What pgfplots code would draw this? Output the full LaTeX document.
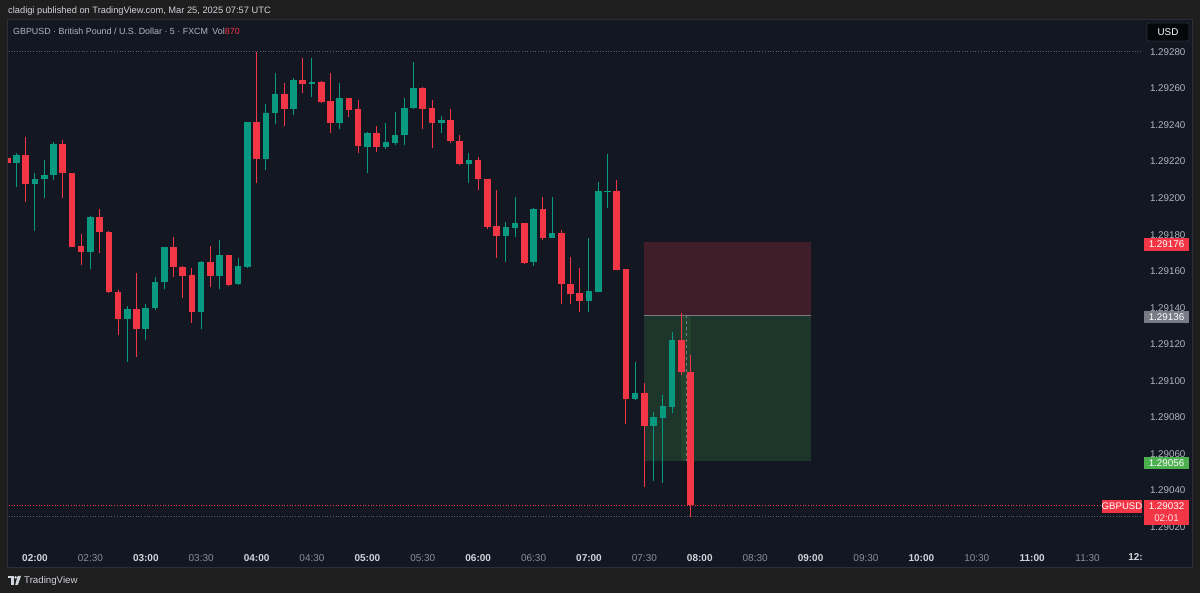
\documentclass[border=0pt]{standalone}
\usepackage{pgfplots}
\pgfplotsset{compat=1.18}
\usepackage{pgfplotstable}
\usepackage{fontspec}
\setmainfont{Liberation Sans}

\definecolor{outer}{HTML}{1E1E1E}
\definecolor{bg}{HTML}{131722}
\definecolor{frame}{HTML}{2A2E39}
\definecolor{up}{HTML}{089981}
\definecolor{dn}{HTML}{F23645}
\definecolor{txt}{HTML}{B2B5BE}
\definecolor{txtb}{HTML}{D1D4DC}
\definecolor{half}{HTML}{8A8E99}
\definecolor{tpgreen}{HTML}{4CAF50}
\definecolor{entry}{HTML}{787B86}

% GBPUSD 5 min candles; t = minutes after 00:00 UTC,
% o h l c = price in 1e-5 above 1.29000 (221.8 -> 1.292218)
\pgfplotstableread{
t o h l c
105 221.8 222.5 219.0 219.4
110 219.4 224.9 205.9 223.6
115 223.6 233.3 198.0 207.6
120 207.6 213.9 182.2 210.5
125 210.5 220.9 199.9 212.5
130 212.5 230.7 209.9 229.6
135 229.6 231.8 199.9 213.6
140 213.6 213.8 173.0 173.4
145 173.6 180.2 163.4 170.7
150 170.7 190.0 161.0 189.8
155 189.8 193.9 169.8 181.6
160 181.6 182.0 148.0 148.5
165 148.5 149.5 125.1 133.8
170 133.8 141.0 110.5 139.2
175 139.2 159.2 112.9 128.5
180 128.5 141.9 122.4 140.0
185 140.0 157.0 139.0 153.9
190 153.9 173.3 150.1 173.1
195 173.1 178.9 157.0 162.5
200 162.5 163.0 145.2 157.4
205 157.9 161.6 131.8 137.8
210 137.8 165.5 128.2 165.2
215 165.2 173.8 151.5 157.5
220 157.5 177.1 150.1 168.9
225 168.9 169.0 152.0 152.5
230 152.8 167.1 152.5 163.0
235 162.5 241.6 162.0 241.5
240 241.5 280.2 208.1 221.3
245 221.3 251.5 215.4 246.8
250 246.4 268.3 240.6 256.8
255 256.8 262.9 239.5 248.8
260 248.8 265.6 245.5 264.7
265 264.7 276.9 257.4 262.3
270 262.3 276.5 255.5 263.7
275 263.7 264.0 251.9 252.8
280 253.3 268.3 235.8 241.3
285 241.3 262.9 237.7 254.6
290 254.6 255.0 244.6 248.2
295 248.6 253.7 224.5 228.5
300 228.2 236.0 213.6 235.5
305 235.5 239.5 225.4 228.2
310 228.2 241.3 226.9 230.6
315 230.4 247.3 229.1 234.6
320 234.6 254.6 229.1 249.2
325 249.2 274.7 249.0 260.5
330 260.5 260.7 237.7 248.8
335 249.2 253.7 227.3 241.3
340 241.3 245.0 235.5 242.8
345 242.8 248.6 230.0 231.3
350 231.3 234.6 218.0 218.5
355 218.5 224.5 208.4 220.9
360 220.9 222.7 204.5 210.3
365 210.5 210.7 183.0 184.4
370 184.8 204.5 167.1 179.4
375 179.4 187.1 165.2 184.0
380 183.5 200.5 178.9 186.2
385 186.2 186.5 164.0 164.7
390 165.2 194.5 162.9 194.0
395 194.0 200.5 177.1 178.0
400 178.3 200.5 178.0 180.7
405 180.7 182.8 142.3 152.8
410 153.0 167.6 142.1 147.5
415 147.9 161.6 137.8 143.7
420 143.7 178.0 137.8 149.2
425 148.8 209.0 148.5 203.9
430 203.3 224.2 194.8 203.9
435 203.9 209.9 160.5 160.7
440 161.0 161.2 76.4 89.9
445 89.9 110.5 89.5 93.2
450 93.2 99.0 42.1 75.3
455 75.3 83.1 45.3 80.4
460 79.8 92.2 43.9 86.2
465 85.9 126.9 82.6 122.4
470 122.4 137.3 103.2 105.0
475 105.0 114.1 25.6 32.0
}\candles

\pgfplotsset{
  candle/.style n args={2}{draw=none, mark=none,
    error bars/y dir=plus, error bars/y explicit, error bars/error mark=none,
    error bars/error bar style={draw=#1, line width=#2}},
}

\begin{document}
\begin{tikzpicture}
% page background and chart panel (image pixel coordinates)
\begin{scope}[x=1pt, y=-1pt, shift={(0pt,593pt)}]
  \fill[outer] (0,0) rectangle (1200,593);
  \filldraw[fill=bg, draw=frame, line width=0.8pt] (7,19) rectangle (1192,567);
\end{scope}

\begin{axis}[
  at={(8pt,53pt)}, anchor=south west,
  scale only axis, width=1135pt, height=521pt,
  xmin=105.38, xmax=720, ymin=12.88, ymax=298.05,
  axis line style={draw=none},
  major tick length=0pt,
  xtick={120,150,...,690},
  xticklabels={
    {\color{txtb}\bfseries 02:00},02:30,{\color{txtb}\bfseries 03:00},03:30,
    {\color{txtb}\bfseries 04:00},04:30,{\color{txtb}\bfseries 05:00},05:30,
    {\color{txtb}\bfseries 06:00},06:30,{\color{txtb}\bfseries 07:00},07:30,
    {\color{txtb}\bfseries 08:00},08:30,{\color{txtb}\bfseries 09:00},09:30,
    {\color{txtb}\bfseries 10:00},10:30,{\color{txtb}\bfseries 11:00},11:30},
  xticklabel style={font=\fontsize{10}{12}\selectfont, text=half, yshift=-11pt},
  ytick={20,40,...,280},
  yticklabels={1.29020,1.29040,1.29060,1.29080,1.29100,1.29120,1.29140,
    1.29160,1.29180,1.29200,1.29220,1.29240,1.29260,1.29280},
  yticklabel pos=right,
  yticklabel style={font=\fontsize{9.8}{11}\selectfont, text=txt, anchor=east, xshift=46pt},
]
% short position tool: stop zone, target zone, entry line
\addplot[draw=none, fill=dn, fill opacity=0.2] coordinates {(450,136) (540,136) (540,176) (450,176)} -- cycle;
\addplot[draw=none, fill=tpgreen, fill opacity=0.2] coordinates {(450,56) (540,56) (540,136) (450,136)} -- cycle;
\addplot[draw=none, fill=tpgreen, fill opacity=0.12] coordinates {(470,56) (475,56) (475,136) (470,136)} -- cycle;
\addplot[entry, line width=0.8pt] coordinates {(450,136) (540,136)};
\addplot[entry, dashed, line width=0.6pt] coordinates {(472.5,136) (472.5,56)};
% high / low and last price lines
\addplot[entry!70!bg, dotted, line width=0.7pt] coordinates {(100,280.2) (720,280.2)};
\addplot[entry!70!bg, dotted, line width=0.7pt] coordinates {(100,25.6) (720,25.6)};
\addplot[dn, dotted, line width=0.7pt] coordinates {(100,32) (720,32)};
% wicks
\addplot[restrict expr to domain={\thisrow{c}-\thisrow{o}}{0:1000}, candle={up}{1pt}]
  table[x=t, y=l, y error plus expr=\thisrow{h}-\thisrow{l}] {\candles};
\addplot[restrict expr to domain={\thisrow{c}-\thisrow{o}}{-1000:-0.01}, candle={dn}{1pt}]
  table[x=t, y=l, y error plus expr=\thisrow{h}-\thisrow{l}] {\candles};
% bodies
\addplot[restrict expr to domain={\thisrow{c}-\thisrow{o}}{0:1000}, candle={up}{6.6pt}]
  table[x=t, y=o, y error plus expr=\thisrow{c}-\thisrow{o}] {\candles};
\addplot[restrict expr to domain={\thisrow{c}-\thisrow{o}}{-1000:-0.01}, candle={dn}{6.6pt}]
  table[x=t, y=c, y error plus expr=\thisrow{o}-\thisrow{c}] {\candles};
\end{axis}

% texts and price scale labels (image pixel coordinates)
\begin{scope}[x=1pt, y=-1pt, shift={(0pt,593pt)}, every node/.style={inner sep=0pt}]
  \node[anchor=west, text=txtb, font=\fontsize{9.3}{11}\selectfont] at (8,11)
    {cladigi published on TradingView.com, Mar 25, 2025 07:57 UTC};
  \node[anchor=west, text=txt, font=\fontsize{8.9}{11}\selectfont] at (13,31)
    {GBPUSD · British Pound / U.S. Dollar · 5 · FXCM\enspace Vol\textcolor{dn}{870}};
  \filldraw[fill=black!70!bg, draw=frame, line width=0.8pt, rounded corners=1.5pt] (1147,23) rectangle (1189,41);
  \node[text=white, font=\fontsize{9.8}{12}\selectfont] at (1168,32) {USD};
  \node[anchor=east, text=txtb, font=\fontsize{10}{12}\selectfont\bfseries] at (1143,557) {12:};
  % price labels
  \fill[dn] (1144,238) rectangle (1189,251);
  \node[text=white, font=\fontsize{9.8}{11}\selectfont] at (1166.5,244.5) {1.29176};
  \fill[entry] (1144,311) rectangle (1189,323);
  \node[text=white, font=\fontsize{9.8}{11}\selectfont] at (1166.5,317) {1.29136};
  \fill[tpgreen] (1144,457) rectangle (1189,469);
  \node[text=white, font=\fontsize{9.8}{11}\selectfont] at (1166.5,463) {1.29056};
  \fill[dn] (1102,500) rectangle (1142,513);
  \node[text=white, font=\fontsize{9.6}{11}\selectfont] at (1122,506.5) {GBPUSD};
  \fill[dn] (1144,500) rectangle (1189,525);
  \node[text=white, font=\fontsize{9.8}{11}\selectfont] at (1166.5,506.5) {1.29032};
  \node[text=white!85!dn, font=\fontsize{9.8}{11}\selectfont] at (1166.5,518.5) {02:01};
  % TradingView mark and name
  \fill[txtb] (7.5,576) rectangle (13.5,578.5);
  \fill[txtb] (10.8,576) rectangle (13.5,585);
  \fill[txtb] (15.6,577.4) circle (1.4);
  \fill[txtb] (17.6,576) -- (21,576) -- (17.8,585) -- (15.2,585) -- cycle;
  \node[anchor=west, text=txtb, font=\fontsize{9.7}{12}\selectfont] at (24,580.5) {TradingView};
\end{scope}
\pgfresetboundingbox
\path (0,0) rectangle (1200pt,593pt);
\end{tikzpicture}
\end{document}
